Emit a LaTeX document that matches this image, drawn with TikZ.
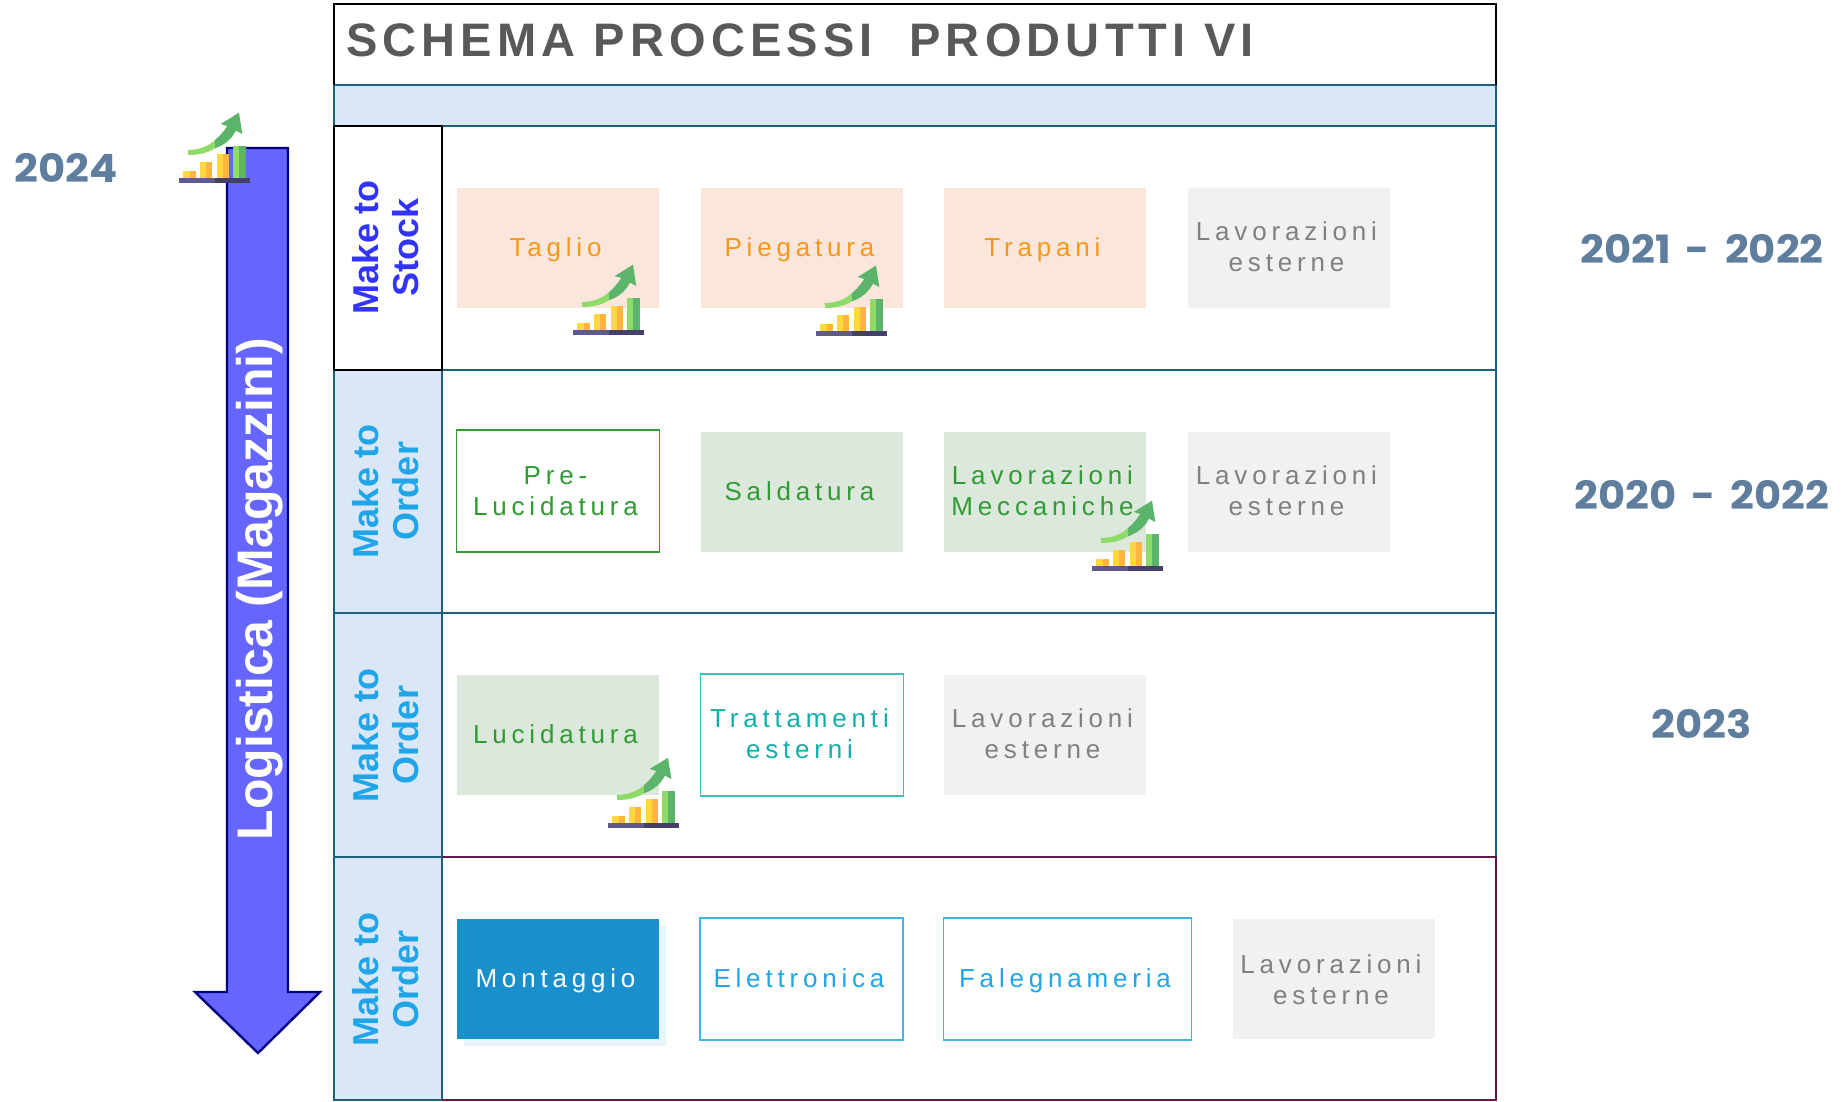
\documentclass[tikz,border=0pt]{standalone}
\usepackage{fontspec}
\setmainfont{Liberation Sans}
\newfontfamily\spacedfont[LetterSpace=18.5]{Liberation Sans}
\newfontfamily\titlefont[LetterSpace=11,BoldFont={Liberation Sans Bold}]{Liberation Sans}
\newfontfamily\yearfont[FakeStretch=1.07]{Poppins}
\newcommand{\tl}[1]{#1\hspace*{5pt}}
\newcommand{\lowtl}[2]{\raisebox{-#1pt}[0pt][0pt]{#2\hspace*{5pt}}}
\definecolor{frame}{HTML}{1C5F7F}
\definecolor{plum}{HTML}{5E1A4B}
\definecolor{band}{HTML}{DAE7F6}
\definecolor{peach}{HTML}{FAE6DB}
\definecolor{sage}{HTML}{DDE8DC}
\definecolor{pale}{HTML}{F1F1F1}
\definecolor{orangetxt}{HTML}{F5981A}
\definecolor{greentxt}{HTML}{2E9B33}
\definecolor{tealtxt}{HTML}{0FAFAA}
\definecolor{tealline}{HTML}{3BBFBF}
\definecolor{bluetxt}{HTML}{1FA5E8}
\definecolor{greytxt}{HTML}{808080}
\definecolor{deepblue}{HTML}{198FCC}
\definecolor{shadowblue}{HTML}{E8F5FA}
\definecolor{yeartxt}{HTML}{5F7E9E}
\definecolor{stockblue}{HTML}{3333FF}
\definecolor{arrowfill}{HTML}{6666FF}
\definecolor{arrowline}{HTML}{000080}
\definecolor{lightg}{HTML}{8FDB69}
\definecolor{darkg}{HTML}{5CB36A}
\definecolor{yel}{HTML}{FFD83B}
\definecolor{amb}{HTML}{FFB53F}
\definecolor{shelfa}{HTML}{5F5A8C}
\definecolor{shelfb}{HTML}{453F6B}
\tikzset{
  procbox/.style={rectangle,inner sep=0pt,outer sep=0pt,align=center,minimum width=202pt,minimum height=120pt,
    font=\spacedfont\fontsize{26}{31}\selectfont,
    execute at begin node={\rule{0pt}{26pt}}, execute at end node={\rule[-9pt]{0pt}{9pt}}},
  orangebox/.style={procbox,fill=peach,text=orangetxt},
  sagebox/.style={procbox,fill=sage,text=greentxt},
  palebox/.style={procbox,fill=pale,text=greytxt},
  greenline/.style={procbox,draw=greentxt,line width=1.4pt,fill=white,text=greentxt,minimum width=203pt,minimum height=122pt},
  tealbox/.style={procbox,draw=tealline,line width=1.4pt,fill=white,text=tealtxt,minimum width=203pt,minimum height=122pt},
  blueline/.style={procbox,draw=bluetxt!85!white,line width=1.4pt,fill=white,text=bluetxt,minimum width=203pt,minimum height=122pt},
  rowlabel/.style={rotate=90,inner sep=0pt,align=center,font=\bfseries\fontsize{36}{40}\selectfont},
  yearlabel/.style={inner sep=0pt,text=yeartxt,font=\yearfont\bfseries\fontsize{39}{41}\selectfont},
  pics/growth/.style={code={
    \fill[shelfa] (0,-5) rectangle (36,0);
    \fill[shelfb] (36,-5) rectangle (71,0);
    \fill[yel] (4,-12) rectangle (11,-5);   \fill[amb] (11,-12) rectangle (17,-5);
    \fill[yel] (21,-21) rectangle (27,-5);  \fill[amb] (27,-21) rectangle (33,-5);
    \fill[yel] (38,-29) rectangle (44,-5);  \fill[amb] (44,-29) rectangle (50,-5);
    \fill[lightg] (54,-37) rectangle (60,-5); \fill[darkg] (60,-37) rectangle (67,-5);
    \fill[lightg] (8.7,-33) .. controls (20,-33) and (30,-37) .. (36,-43) -- (36,-34.7)
       .. controls (28,-29.5) and (18,-28) .. (9.3,-28) -- cycle;
    \fill[darkg] (36,-43) .. controls (41,-47) and (45,-52) .. (48.3,-57) -- (41.7,-59) -- (60,-70.3)
       -- (63.3,-49) -- (57,-52.3) .. controls (52,-43) and (45,-38) .. (36,-34.7) -- cycle;
  }}
}
\begin{document}
\begin{tikzpicture}[x=1pt,y=-1pt]
\useasboundingbox (0,0) rectangle (1845,1102);
% table fills
\fill[band] (334,85) rectangle (1496,126);
\fill[band] (334,370) rectangle (442,1100);
% table lines
\draw[frame,line width=1.6pt] (334,85) -- (1496,85) (334,126) -- (1496,126) (442,370) -- (1496,370) (442,613) -- (1496,613);
\draw[frame,line width=1.6pt] (334,85) -- (334,126) (1496,85) -- (1496,857);
\draw[frame,line width=1.6pt] (334,370) -- (442,370) (334,613) -- (442,613) (334,857) -- (442,857) (334,370) -- (334,1100) -- (442,1100) (442,370) -- (442,1100);
\draw[plum,line width=1.6pt] (442,857) -- (1496,857) -- (1496,1100) -- (442,1100);
\draw[black,line width=1.8pt] (334,85) -- (334,4) -- (1496,4) -- (1496,85);
\draw[black,line width=1.8pt] (334,126) rectangle (442,370);
% title
\node[anchor=base west,inner sep=0pt,text=black!65,font=\titlefont\bfseries\fontsize{47}{50}\selectfont] (title) at (346,57) {SCHEMA PROCESSI\ \ PRODUTTI VI};
% row labels
\node[rowlabel,text=stockblue] (lab1) at (386,247) {Make to\\Stock};
\node[rowlabel,text=bluetxt] (lab2) at (386,491) {Make to\\Order};
\node[rowlabel,text=bluetxt] (lab3) at (386,735) {Make to\\Order};
\node[rowlabel,text=bluetxt] (lab4) at (386,979) {Make to\\Order};
% row 1
\node[orangebox] (taglio) at (558,248) {\tl{Taglio}};
\node[orangebox] (piega) at (802,248) {\tl{Piegatura}};
\node[orangebox] (trapani) at (1045,248) {\tl{Trapani}};
\node[palebox] (est1) at (1289,248) {\lowtl{12.6}{Lavorazioni}\\\lowtl{12.6}{esterne}};
% row 2
\node[greenline] (preluc) at (558,491) {\lowtl{13}{Pre-}\\\lowtl{13}{Lucidatura}};
\node[sagebox] (salda) at (802,492) {\tl{Saldatura}};
\node[sagebox] (mecc) at (1045,492) {\lowtl{12.9}{Lavorazioni}\\\lowtl{12.9}{Meccaniche}};
\node[palebox] (est2) at (1289,492) {\lowtl{12.9}{Lavorazioni}\\\lowtl{12.9}{esterne}};
% row 3
\node[sagebox] (luc) at (558,735) {\tl{Lucidatura}};
\node[tealbox] (tratt) at (802,735) {\lowtl{12.9}{Trattamenti}\\\lowtl{12.9}{esterni}};
\node[palebox] (est3) at (1045,735) {\lowtl{12.9}{Lavorazioni}\\\lowtl{12.9}{esterne}};
% row 4
\fill[shadowblue] (464,926) rectangle (666,1046);
\node[procbox,fill=deepblue,text=white] (mont) at (558,979) {\tl{Montaggio}};
\node[blueline] (elet) at (801.5,979) {\tl{Elettronica}};
\node[blueline,minimum width=248pt] (fale) at (1067.5,979) {\tl{Falegnameria}};
\node[palebox] (est4) at (1333.5,979) {\lowtl{14.1}{Lavorazioni}\\\lowtl{14.1}{esterne}};
% logistics arrow
\draw[arrowline,fill=arrowfill,line width=2.4pt,line join=miter] (227,148) -- (288,148) -- (288,992) -- (320,992) -- (258,1053) -- (195,992) -- (227,992) -- cycle;
\node[rotate=90,inner sep=0pt,text=white,font=\bfseries\fontsize{50}{54}\selectfont] (logi) at (260,589) {Logistica (Magazzini)};
% growth icons
\pic at (179,183) {growth};
\pic at (573,335) {growth};
\pic at (816,336) {growth};
\pic at (1092,571) {growth};
\pic at (608,828) {growth};
% years
\node[yearlabel] (y24) at (66,168) {2024};
\node[yearlabel] (y21) at (1702,249) {2021\hspace{15pt}-\hspace{15pt}2022};
\node[yearlabel] (y20) at (1702,495) {2020\hspace{15pt}-\hspace{15pt}2022};
\node[yearlabel] (y23) at (1702,724) {2023};
\end{tikzpicture}
\end{document}
